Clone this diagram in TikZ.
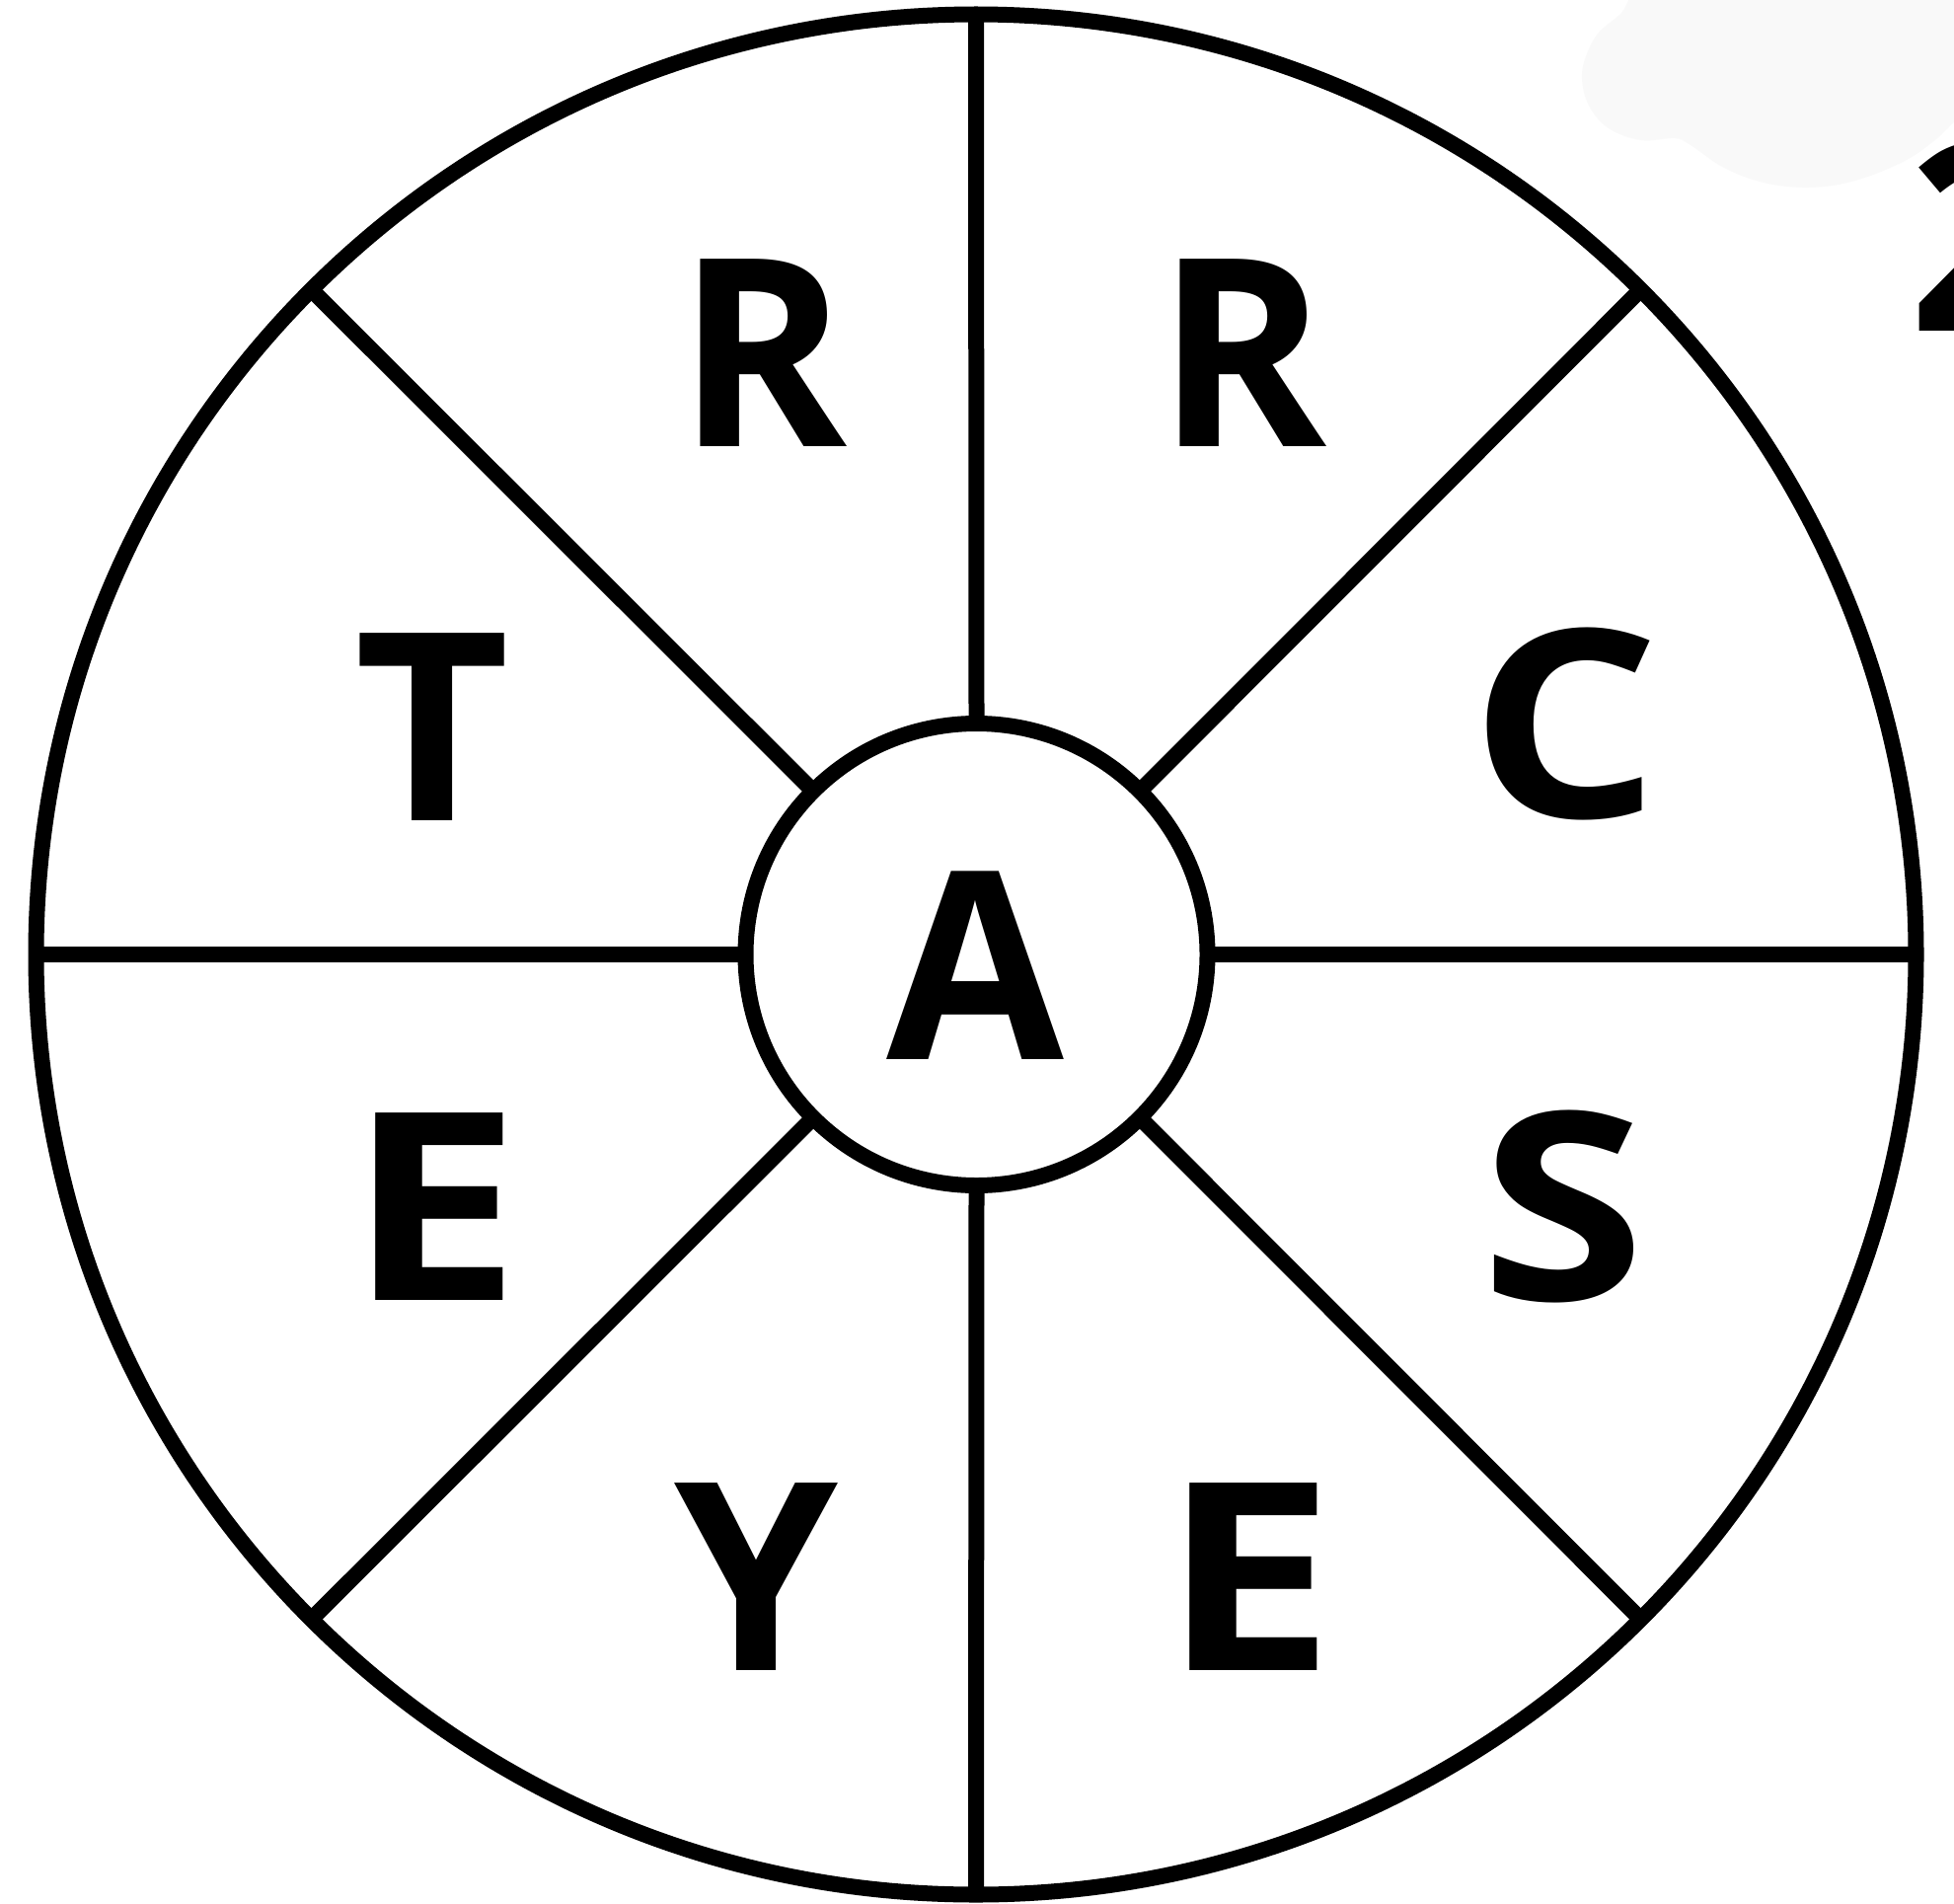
\documentclass[tikz,border=0pt]{standalone}
\usepackage{fontspec}
\newfontfamily\wheelfont{Open Sans}
\definecolor{blobgray}{RGB}{249,249,249}
\tikzset{
  ring/.style={draw=black, line width=16pt, circle, inner sep=0pt, outer sep=0pt},
  spoke/.style={draw=black, line width=16pt, line cap=butt},
  letter/.style={font=\wheelfont\bfseries\fontsize{266}{266}\selectfont, inner sep=0pt, outer sep=0pt, anchor=base, text=black}
}
\begin{document}
\begin{tikzpicture}[x=1pt,y=-1pt]
\useasboundingbox (0,0) rectangle (1980,1929);
\clip (0,0) rectangle (1980,1929);
\fill[white] (0,0) rectangle (1980,1929);
% faint background blob, top right
\fill[blobgray] plot[smooth, tension=0.6] coordinates {(1652,-5) (1643,13) (1620,33) (1607,57) (1603,80) (1610,107) (1630,130) (1663,142) (1697,140) (1713,147) (1747,170) (1787,185) (1833,190) (1880,183) (1930,163) (1963,140) (1985,118)} -- (1985,-5) -- cycle;
% wheel
\node[ring, minimum size=1905pt] (rim) at (989,967) {};
\node[ring, minimum size=468pt, fill=white] (hub) at (989.5,967) {};
\foreach \a in {0,45,...,315}{
  \draw[spoke] (hub.\a) -- (rim.\a);
}
% letters
\node[letter] (l1) at (772.5,452) {\scalebox{0.98}[1]{R}};
\node[letter] (l2) at (1259,452) {\scalebox{0.98}[1]{R}};
\node[letter] (l3) at (1586,828) {\scalebox{1.14}[1]{C}};
\node[letter] (l4) at (1584,1317) {\scalebox{1.14}[1]{S}};
\node[letter] (l5) at (1265,1692) {\scalebox{1.18}[1]{E}};
\node[letter] (l6) at (766.5,1692) {Y};
\node[letter] (l7) at (440.5,1317) {\scalebox{1.18}[1]{E}};
\node[letter] (l8) at (438.5,831) {\scalebox{1.02}[1]{T}};
\node[letter] (hubletter) at (988,1073) {\scalebox{0.98}[1]{A}};
% partial digit cut by the right edge
\node[letter, anchor=base west] (digit) at (1934,335) {2};
\end{tikzpicture}
\end{document}
